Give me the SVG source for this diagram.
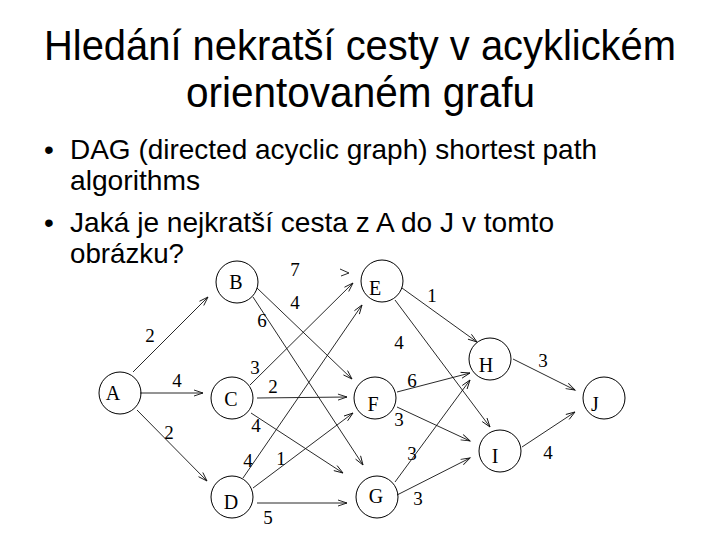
<svg xmlns="http://www.w3.org/2000/svg" width="720" height="540" viewBox="0 0 720 540">
<style>
.title{font-family:"Liberation Sans",Arial,sans-serif;font-size:43px;fill:#000}
.bul{font-family:"Liberation Sans",Arial,sans-serif;font-size:28px;fill:#000}
.node circle{fill:none;stroke:#000;stroke-width:1}
.node text{font-family:"Liberation Serif","Times New Roman",serif;font-size:20px;fill:#000;text-anchor:middle}
.edges line{stroke:#111;stroke-width:0.9;marker-end:url(#arr)}
.lbl{font-family:"Liberation Serif","Times New Roman",serif;font-size:19px;fill:#000;text-anchor:middle}
</style>
<defs>
<marker id="arr" viewBox="-10 -5 12 10" markerWidth="12" markerHeight="10" refX="0" refY="0" orient="auto" markerUnits="userSpaceOnUse">
<path d="M-9,-3 L0,0 L-9,3" fill="none" stroke="#111" stroke-width="0.9"/>
</marker>
</defs>
<rect width="720" height="540" fill="#fff"/>
<g id="title">
<text class="title" x="44" y="60" textLength="632" lengthAdjust="spacingAndGlyphs">Hledání nekratší cesty v acyklickém</text>
<text class="title" x="186" y="107" textLength="349" lengthAdjust="spacingAndGlyphs">orientovaném grafu</text>
</g>
<g id="bullets">
<text class="bul" x="44" y="159">•</text>
<text class="bul" x="70" y="159" textLength="527" lengthAdjust="spacingAndGlyphs">DAG (directed acyclic graph) shortest path</text>
<text class="bul" x="70" y="190" textLength="130" lengthAdjust="spacingAndGlyphs">algorithms</text>
<text class="bul" x="44" y="232">•</text>
<text class="bul" x="70" y="232" textLength="484" lengthAdjust="spacingAndGlyphs">Jaká je nejkratší cesta z A do J v tomto</text>
<text class="bul" x="70" y="263" textLength="114" lengthAdjust="spacingAndGlyphs">obrázku?</text>
</g>
<g id="connectors" class="edges">
<line x1="133" y1="372" x2="208" y2="297"/>
<line x1="140" y1="393" x2="203" y2="393"/>
<line x1="137" y1="410" x2="207" y2="481"/>
<line x1="257" y1="288" x2="352" y2="379"/>
<line x1="253" y1="297" x2="363" y2="465"/>
<line x1="250" y1="385" x2="353" y2="283"/>
<line x1="257" y1="398" x2="347" y2="397"/>
<line x1="251" y1="413" x2="343" y2="473"/>
<line x1="243" y1="478" x2="362" y2="305"/>
<line x1="253" y1="488" x2="353" y2="413"/>
<line x1="257" y1="503" x2="347" y2="503"/>
<line x1="402" y1="288" x2="477" y2="342"/>
<line x1="395" y1="300" x2="490" y2="427"/>
<line x1="397" y1="392" x2="470" y2="373"/>
<line x1="397" y1="407" x2="470" y2="441"/>
<line x1="395" y1="482" x2="470" y2="380"/>
<line x1="397" y1="495" x2="470" y2="458"/>
<line x1="513" y1="359" x2="575" y2="390"/>
<line x1="522" y1="447" x2="575" y2="412"/>
<path d="M340,269 L349,273 L341,276" fill="none" stroke="#111" stroke-width="0.9"/>
</g>
<g id="edge-labels">
<text class="lbl" x="150" y="342">2</text>
<text class="lbl" x="177" y="387">4</text>
<text class="lbl" x="169" y="439">2</text>
<text class="lbl" x="295" y="276">7</text>
<text class="lbl" x="295" y="309">4</text>
<text class="lbl" x="262" y="327">6</text>
<text class="lbl" x="255" y="374">3</text>
<text class="lbl" x="273" y="393">2</text>
<text class="lbl" x="256" y="432">4</text>
<text class="lbl" x="248" y="467">4</text>
<text class="lbl" x="281" y="465">1</text>
<text class="lbl" x="268" y="524">5</text>
<text class="lbl" x="432" y="302">1</text>
<text class="lbl" x="399" y="349">4</text>
<text class="lbl" x="412" y="387">6</text>
<text class="lbl" x="399" y="426">3</text>
<text class="lbl" x="412" y="460">3</text>
<text class="lbl" x="418" y="505">3</text>
<text class="lbl" x="543" y="367">3</text>
<text class="lbl" x="548" y="459">4</text>
</g>
<g id="node-A" class="node"><circle cx="120" cy="393" r="21"/><text x="113" y="400">A</text></g>
<g id="node-B" class="node"><circle cx="237" cy="282" r="21"/><text x="236" y="289">B</text></g>
<g id="node-C" class="node"><circle cx="232" cy="398" r="21"/><text x="231" y="406">C</text></g>
<g id="node-D" class="node"><circle cx="232" cy="497" r="21"/><text x="231" y="509">D</text></g>
<g id="node-E" class="node"><circle cx="382" cy="281" r="21"/><text x="375" y="295">E</text></g>
<g id="node-F" class="node"><circle cx="375" cy="398" r="21"/><text x="373" y="411">F</text></g>
<g id="node-G" class="node"><circle cx="377" cy="497" r="21"/><text x="376" y="503">G</text></g>
<g id="node-H" class="node"><circle cx="490" cy="359" r="21"/><text x="486" y="372">H</text></g>
<g id="node-I" class="node"><circle cx="500" cy="451" r="21"/><text x="495" y="463">I</text></g>
<g id="node-J" class="node"><circle cx="604" cy="398" r="21"/><text x="595" y="411">J</text></g>
</svg>
